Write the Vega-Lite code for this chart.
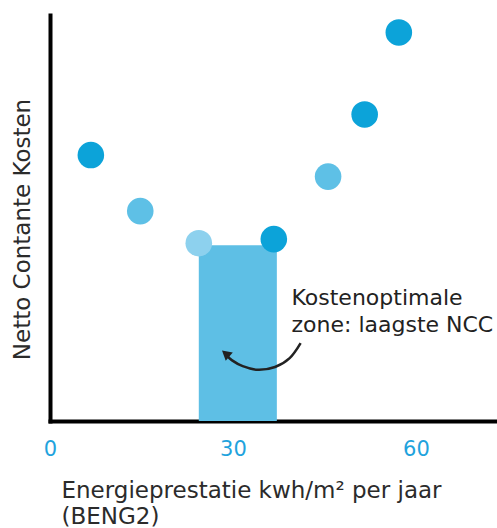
{
  "$schema": "https://vega.github.io/schema/vega-lite/v6.json",
  "width": 447,
  "height": 406,
  "autosize": {"type": "none"},
  "padding": {"left": 50, "top": 15, "right": 0, "bottom": 107},
  "background": "white",
  "config": {
    "view": {"stroke": null},
    "font": "DejaVu Sans"
  },
  "datasets": {
    "zone": [{"x1": 24.4, "x2": 37.2, "top": 43.3}],
    "points": [
      {"beng": 6.7, "ncc": 65.5, "tone": "donker"},
      {"beng": 14.8, "ncc": 51.7, "tone": "midden"},
      {"beng": 24.4, "ncc": 43.8, "tone": "licht"},
      {"beng": 36.7, "ncc": 44.8, "tone": "donker"},
      {"beng": 45.6, "ncc": 60.2, "tone": "midden"},
      {"beng": 51.6, "ncc": 75.5, "tone": "donker"},
      {"beng": 57.2, "ncc": 95.7, "tone": "donker"}
    ],
    "arrow": [
      {"step": 1, "ax": 41.1, "ay": 19.2},
      {"step": 2, "ax": 39.3, "ay": 15.5},
      {"step": 3, "ax": 36.9, "ay": 13.3},
      {"step": 4, "ax": 34.1, "ay": 12.6},
      {"step": 5, "ax": 31.6, "ay": 13.5},
      {"step": 6, "ax": 29.8, "ay": 15.0},
      {"step": 7, "ax": 29.0, "ay": 16.2}
    ],
    "head": [{"hx": 28.8, "hy": 16.6}],
    "label": [{"lx": 39.6, "ly": 28.6, "txt": "Kostenoptimale\nzone: laagste NCC"}]
  },
  "layer": [
    {
      "data": {"name": "zone"},
      "mark": {"type": "rect", "color": "#5ebfe5"},
      "encoding": {
        "x": {
          "field": "x1", "type": "quantitative",
          "scale": {"domain": [0, 73.3], "nice": false, "zero": false},
          "axis": {
            "values": [0, 30, 60],
            "title": ["Energieprestatie kwh/m² per jaar", "(BENG2)"],
            "titleFontSize": 23,
            "titleFontWeight": "normal",
            "titleColor": "#2b2b2b",
            "titleAnchor": "start",
            "titleAlign": "left",
            "titleBaseline": "alphabetic",
            "titleX": 11,
            "titleY": 76,
            "titleLineHeight": 26,
            "labelFontSize": 21,
            "labelColor": "#1fa3dd",
            "labelPadding": 28,
            "labelBaseline": "middle",
            "labelFlush": false,
            "ticks": false,
            "tickSize": 0,
            "grid": false,
            "domainColor": "black",
            "domainWidth": 4,
            "domainCap": "square"
          }
        },
        "x2": {"field": "x2"},
        "y": {
          "field": "top", "type": "quantitative",
          "scale": {"domain": [0, 100], "nice": false},
          "axis": {
            "title": "Netto Contante Kosten",
            "titleFontSize": 23,
            "titleFontWeight": "normal",
            "titleColor": "#2b2b2b",
            "titleAngle": -90,
            "titleX": -28,
            "titleY": 214,
            "titleAlign": "center",
            "titleBaseline": "middle",
            "labels": false,
            "ticks": false,
            "tickSize": 0,
            "grid": false,
            "domainColor": "black",
            "domainWidth": 4,
            "domainCap": "square"
          }
        },
        "y2": {"datum": 0}
      }
    },
    {
      "data": {"name": "points"},
      "mark": {"type": "circle", "size": 707, "opacity": 1},
      "encoding": {
        "x": {"field": "beng", "type": "quantitative"},
        "y": {"field": "ncc", "type": "quantitative"},
        "color": {
          "field": "tone", "type": "nominal",
          "scale": {"domain": ["donker", "midden", "licht"], "range": ["#0ca3d9", "#5ec0e6", "#8dd1ee"]},
          "legend": null
        }
      }
    },
    {
      "data": {"name": "arrow"},
      "mark": {"type": "line", "interpolate": "cardinal", "color": "#222222", "strokeWidth": 2.5},
      "encoding": {
        "x": {"field": "ax", "type": "quantitative"},
        "y": {"field": "ay", "type": "quantitative"},
        "order": {"field": "step", "type": "quantitative"}
      }
    },
    {
      "data": {"name": "head"},
      "mark": {"type": "point", "shape": "triangle-up", "filled": true, "color": "#222222", "size": 120, "angle": -50, "opacity": 1},
      "encoding": {
        "x": {"field": "hx", "type": "quantitative"},
        "y": {"field": "hy", "type": "quantitative"}
      }
    },
    {
      "data": {"name": "label"},
      "mark": {"type": "text", "align": "left", "baseline": "alphabetic", "fontSize": 22, "lineHeight": 27, "lineBreak": "\n", "color": "#222222"},
      "encoding": {
        "x": {"field": "lx", "type": "quantitative"},
        "y": {"field": "ly", "type": "quantitative"},
        "text": {"field": "txt"}
      }
    }
  ]
}
